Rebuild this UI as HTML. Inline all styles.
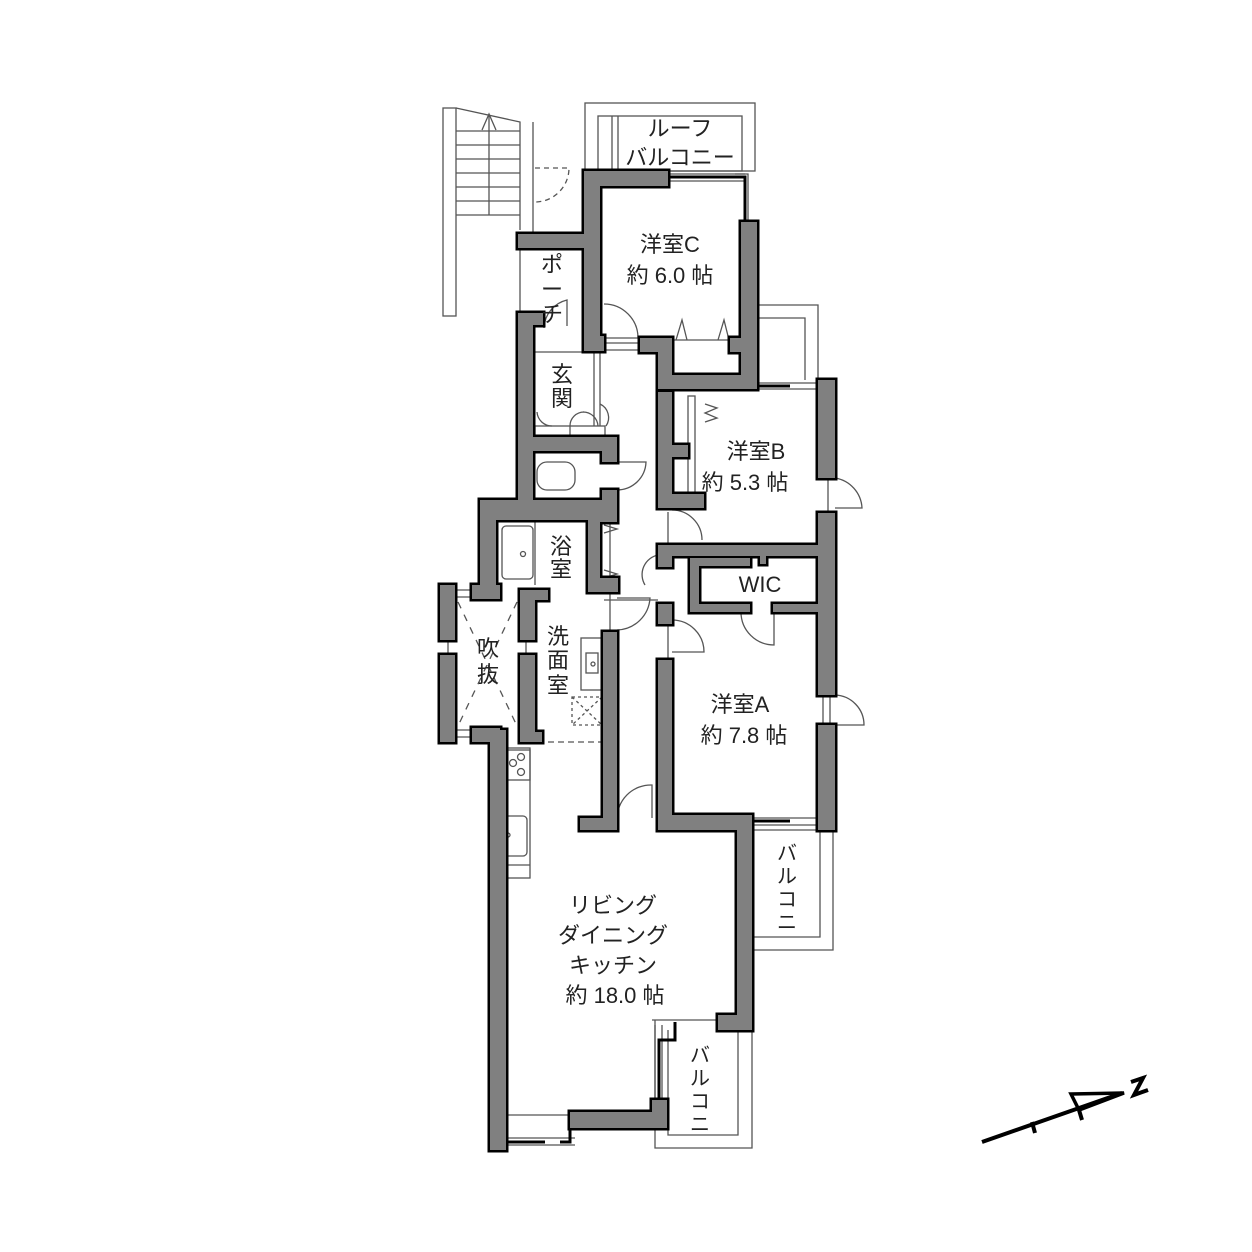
<!DOCTYPE html>
<html><head><meta charset="utf-8"><style>
html,body{margin:0;padding:0;background:#fff}
svg{display:block}
text{font-family:"Liberation Sans","Noto Sans CJK JP",sans-serif;fill:#222}
</style></head><body>
<svg width="1252" height="1252" viewBox="0 0 1252 1252" xmlns="http://www.w3.org/2000/svg">
<defs>
<g id="walls">
<rect x="584" y="171" width="84" height="15"/>
<rect x="584" y="171" width="16" height="180"/>
<rect x="518" y="234" width="82" height="14"/>
<rect x="584" y="336" width="20" height="15"/>
<rect x="640" y="338" width="32" height="14"/>
<rect x="658" y="338" width="14" height="50"/>
<rect x="658" y="375" width="99" height="14"/>
<rect x="741" y="222" width="16" height="167"/>
<rect x="730" y="338" width="20" height="14"/>
<rect x="518" y="313" width="15" height="200"/>
<rect x="533" y="313" width="10" height="12"/>
<rect x="518" y="437" width="99" height="14"/>
<rect x="602" y="437" width="15" height="25"/>
<rect x="602" y="490" width="15" height="30"/>
<rect x="480" y="500" width="137" height="20"/>
<rect x="480" y="500" width="16" height="95"/>
<rect x="588" y="512" width="12" height="80"/>
<rect x="588" y="578" width="30" height="14"/>
<rect x="600" y="512" width="17" height="10"/>
<rect x="658" y="392" width="14" height="116"/>
<rect x="658" y="445" width="30" height="12"/>
<rect x="658" y="494" width="46" height="14"/>
<rect x="818" y="380" width="17" height="98"/>
<rect x="818" y="513" width="17" height="182"/>
<rect x="658" y="545" width="177" height="11"/>
<rect x="658" y="545" width="14" height="22"/>
<rect x="658" y="604" width="14" height="20"/>
<rect x="690" y="558" width="9" height="52"/>
<rect x="690" y="604" width="60" height="8"/>
<rect x="773" y="604" width="60" height="8"/>
<rect x="690" y="558" width="60" height="8"/>
<rect x="760" y="556" width="6" height="8"/>
<rect x="658" y="660" width="14" height="170"/>
<rect x="658" y="815" width="94" height="15"/>
<rect x="818" y="725" width="17" height="105"/>
<rect x="737" y="815" width="15" height="215"/>
<rect x="718" y="1015" width="34" height="15"/>
<rect x="490" y="730" width="16" height="420"/>
<rect x="490" y="1135" width="14" height="15"/>
<rect x="570" y="1112" width="97" height="16"/>
<rect x="652" y="1100" width="15" height="28"/>
<rect x="440" y="585" width="15" height="55"/>
<rect x="440" y="655" width="15" height="87"/>
<rect x="472" y="585" width="28" height="14"/>
<rect x="472" y="728" width="28" height="14"/>
<rect x="520" y="590" width="15" height="50"/>
<rect x="520" y="655" width="15" height="87"/>
<rect x="520" y="590" width="28" height="10"/>
<rect x="520" y="732" width="22" height="10"/>
<rect x="603" y="632" width="14" height="198"/>
<rect x="580" y="818" width="37" height="12"/>
</g>
</defs>
<g fill="none" stroke="#555" stroke-width="1.3">
<rect x="585" y="103" width="170" height="68"/>
<rect x="598" y="116" width="144" height="55"/>
<line x1="612" y1="116" x2="612" y2="171"/><line x1="618" y1="116" x2="618" y2="171"/>
<polyline points="757,305 818,305 818,380"/><polyline points="757,318 805,318 805,380"/>
<polyline points="752,830 752,950 833,950 833,830"/><polyline points="752,830 820,830 820,937 752,937"/>
<polyline points="655,1020 655,1148 752,1148 752,1030"/><polyline points="668,1030 668,1135 738,1135 738,1030"/>
<polyline points="652,1020 718,1020"/>
<rect x="443" y="108" width="13" height="208"/>
<polyline points="456,108 520,122 520,230"/>
<line x1="533" y1="122" x2="533" y2="234"/>
<line x1="456" y1="131" x2="520" y2="131"/><line x1="456" y1="159" x2="520" y2="159"/>
<line x1="456" y1="187" x2="520" y2="187"/><line x1="456" y1="215" x2="520" y2="215"/>
<line x1="456" y1="145" x2="520" y2="145"/><line x1="456" y1="173" x2="520" y2="173"/><line x1="456" y1="201" x2="520" y2="201"/>
<line x1="489" y1="115" x2="489" y2="215"/>
<polyline points="482,130 489,114 496,130"/>
<line x1="520" y1="248" x2="520" y2="313"/>
<path d="M535,168 L569,168 A34,34 0 0 1 535,202" stroke-dasharray="5,4"/>
<path d="M604,304 A34,34 0 0 1 638,338 L604,338"/>
<path d="M544,328 A30,30 0 0 1 567,300 L567,326"/>
<path d="M617,462 L646,462 A29,29 0 0 1 617,490"/>
<path d="M672,510 A30,30 0 0 1 702,540"/>
<path d="M672,620 A32,32 0 0 1 704,652 L672,652"/>
<path d="M741,612 A33,33 0 0 0 774,645 L774,612"/>
<path d="M835,478 A32,32 0 0 1 862,508 L835,508"/>
<path d="M835,695 A30,30 0 0 1 864,725 L835,725"/>
<path d="M617,820 A34,34 0 0 1 652,785 L652,818"/>
<path d="M617,630 A34,34 0 0 0 650,598 L617,598"/>
<path d="M645,585 A20,20 0 0 1 658,555"/>
<path d="M537,412 A15,15 0 0 0 552,426 M584,412 A14,14 0 0 0 570,426 M583,412 A15,15 0 0 1 598,426 M600,404 A15,15 0 0 1 606,426"/>
<rect x="535" y="426" width="70" height="11"/>
<line x1="570" y1="426" x2="570" y2="437"/>
<line x1="535" y1="352" x2="604" y2="352"/>
<line x1="594" y1="352" x2="594" y2="426"/><line x1="600" y1="352" x2="600" y2="426"/>
<line x1="604" y1="350" x2="640" y2="350"/>
<line x1="604" y1="343" x2="640" y2="343"/>
<line x1="672" y1="340" x2="730" y2="340"/>
<path d="M676,340 L682,320 L687,340 M718,340 L724,320 L729,340"/>
<rect x="688" y="396" width="7" height="108"/>
<path d="M705,404 L717,408 L705,413 L717,418 L705,422"/>
<rect x="537" y="462" width="38" height="28" rx="10"/>
<rect x="502" y="526" width="31" height="53" rx="4"/>
<line x1="535" y1="520" x2="535" y2="585"/>
<circle cx="523" cy="554" r="2.5"/>
<path d="M604,525 L617,529 L604,533 M604,570 L617,574 L604,578"/>
<rect x="581" y="638" width="21" height="52"/>
<rect x="586" y="653" width="12" height="20"/><circle cx="593" cy="664" r="2"/>
<rect x="572" y="697" width="30" height="28" stroke-dasharray="3,3"/>
<path d="M572,697 L602,725 M602,697 L572,725" stroke-dasharray="3,3"/>
<line x1="538" y1="742" x2="603" y2="742" stroke-dasharray="6,4"/>
<path d="M458,602 L517,726 M517,602 L458,726" stroke-dasharray="7,7"/>
<rect x="506" y="748" width="24" height="130"/>
<rect x="506" y="750" width="24" height="30"/>
<circle cx="513" cy="763" r="3.5"/><circle cx="521" cy="757" r="3.5"/><circle cx="521" cy="772" r="3.5"/>
<rect x="503" y="816" width="24" height="40" rx="4"/><circle cx="508" cy="835" r="2"/>
<line x1="506" y1="865" x2="530" y2="865"/>
<line x1="668" y1="174" x2="745" y2="174"/><line x1="668" y1="181" x2="745" y2="181"/>
<polyline points="735,174 748,174 748,222"/>
<line x1="757" y1="383" x2="818" y2="383"/><line x1="757" y1="389" x2="818" y2="389"/>
<line x1="752" y1="818" x2="818" y2="818"/><line x1="752" y1="825" x2="818" y2="825"/>
<line x1="506" y1="1115" x2="570" y2="1115"/><line x1="506" y1="1138" x2="575" y2="1138"/>
<line x1="506" y1="1145" x2="575" y2="1145"/>
<line x1="655" y1="1025" x2="655" y2="1098"/><line x1="662" y1="1025" x2="662" y2="1098"/>
<line x1="828" y1="478" x2="828" y2="513"/><line x1="823" y1="695" x2="823" y2="725"/><line x1="830" y1="695" x2="830" y2="725"/>
<line x1="448" y1="640" x2="448" y2="655"/><line x1="526" y1="640" x2="526" y2="655"/>
<line x1="455" y1="590" x2="472" y2="590"/><line x1="455" y1="597" x2="472" y2="597"/>
<line x1="455" y1="730" x2="472" y2="730"/><line x1="455" y1="737" x2="472" y2="737"/>
<line x1="604" y1="600" x2="658" y2="600"/>
<line x1="610" y1="632" x2="610" y2="520"/>
<line x1="668" y1="512" x2="668" y2="545"/><line x1="668" y1="620" x2="668" y2="660"/>
</g>
<g stroke="#000" stroke-width="3" fill="none">
<line x1="668" y1="177" x2="735" y2="177"/>
<polyline points="735,177 745,177 745,222"/>
<line x1="757" y1="386" x2="790" y2="386"/>
<line x1="752" y1="821" x2="790" y2="821"/>
<polyline points="659,1098 659,1040 675,1040 675,1022"/>
<polyline points="506,1142 545,1142"/>
<polyline points="560,1142 570,1142 570,1128"/>
</g>
<use href="#walls" fill="#000" stroke="#000" stroke-width="5"/>
<use href="#walls" fill="#808080"/>
<g font-size="22" text-anchor="middle">
<text x="680" y="136">ルーフ</text>
<text x="680" y="165">バルコニー</text>
<text x="670" y="252">洋室C</text>
<text x="670" y="283">約 6.0 帖</text>
<text x="756" y="459">洋室B</text>
<text x="745" y="490">約 5.3 帖</text>
<text x="760" y="592">WIC</text>
<text x="740" y="712">洋室A</text>
<text x="744" y="743">約 7.8 帖</text>
<text x="613" y="913">リビング</text>
<text x="613" y="943">ダイニング</text>
<text x="613" y="973">キッチン</text>
<text x="615" y="1003">約 18.0 帖</text>
<text x="562" y="382">玄</text><text x="562" y="406">関</text>
<text x="561" y="554">浴</text><text x="561" y="577">室</text>
<text x="558" y="644">洗</text><text x="558" y="668">面</text><text x="558" y="693">室</text>
<text x="488" y="656">吹</text><text x="488" y="682">抜</text>
<text x="552" y="272">ポ</text><text x="552" y="297">ー</text><text x="552" y="322">チ</text>
<g font-size="20">
<text x="787" y="860">バ</text><text x="787" y="883">ル</text><text x="787" y="906">コ</text><text x="787" y="929">ニ</text>
<text x="700" y="1062">バ</text><text x="700" y="1085">ル</text><text x="700" y="1108">コ</text><text x="700" y="1131">ニ</text>
</g>
</g>
<line x1="787" y1="917" x2="787" y2="930" stroke="#fff" stroke-width="0"/>
<line x1="700" y1="1116" x2="700" y2="1130" stroke="#fff" stroke-width="0"/>
<g stroke="#000" stroke-width="4" fill="none">
<line x1="982" y1="1142" x2="1122" y2="1093"/>
<line x1="1032" y1="1122" x2="1035" y2="1133"/>
<polygon points="1071,1094 1124,1093 1079,1110" stroke-width="3.5"/>
<line x1="1079" y1="1110" x2="1082" y2="1120"/>
<path d="M1131,1082 L1143,1078 L1134,1095 L1148,1090"/>
</g>
</svg>
</body></html>
